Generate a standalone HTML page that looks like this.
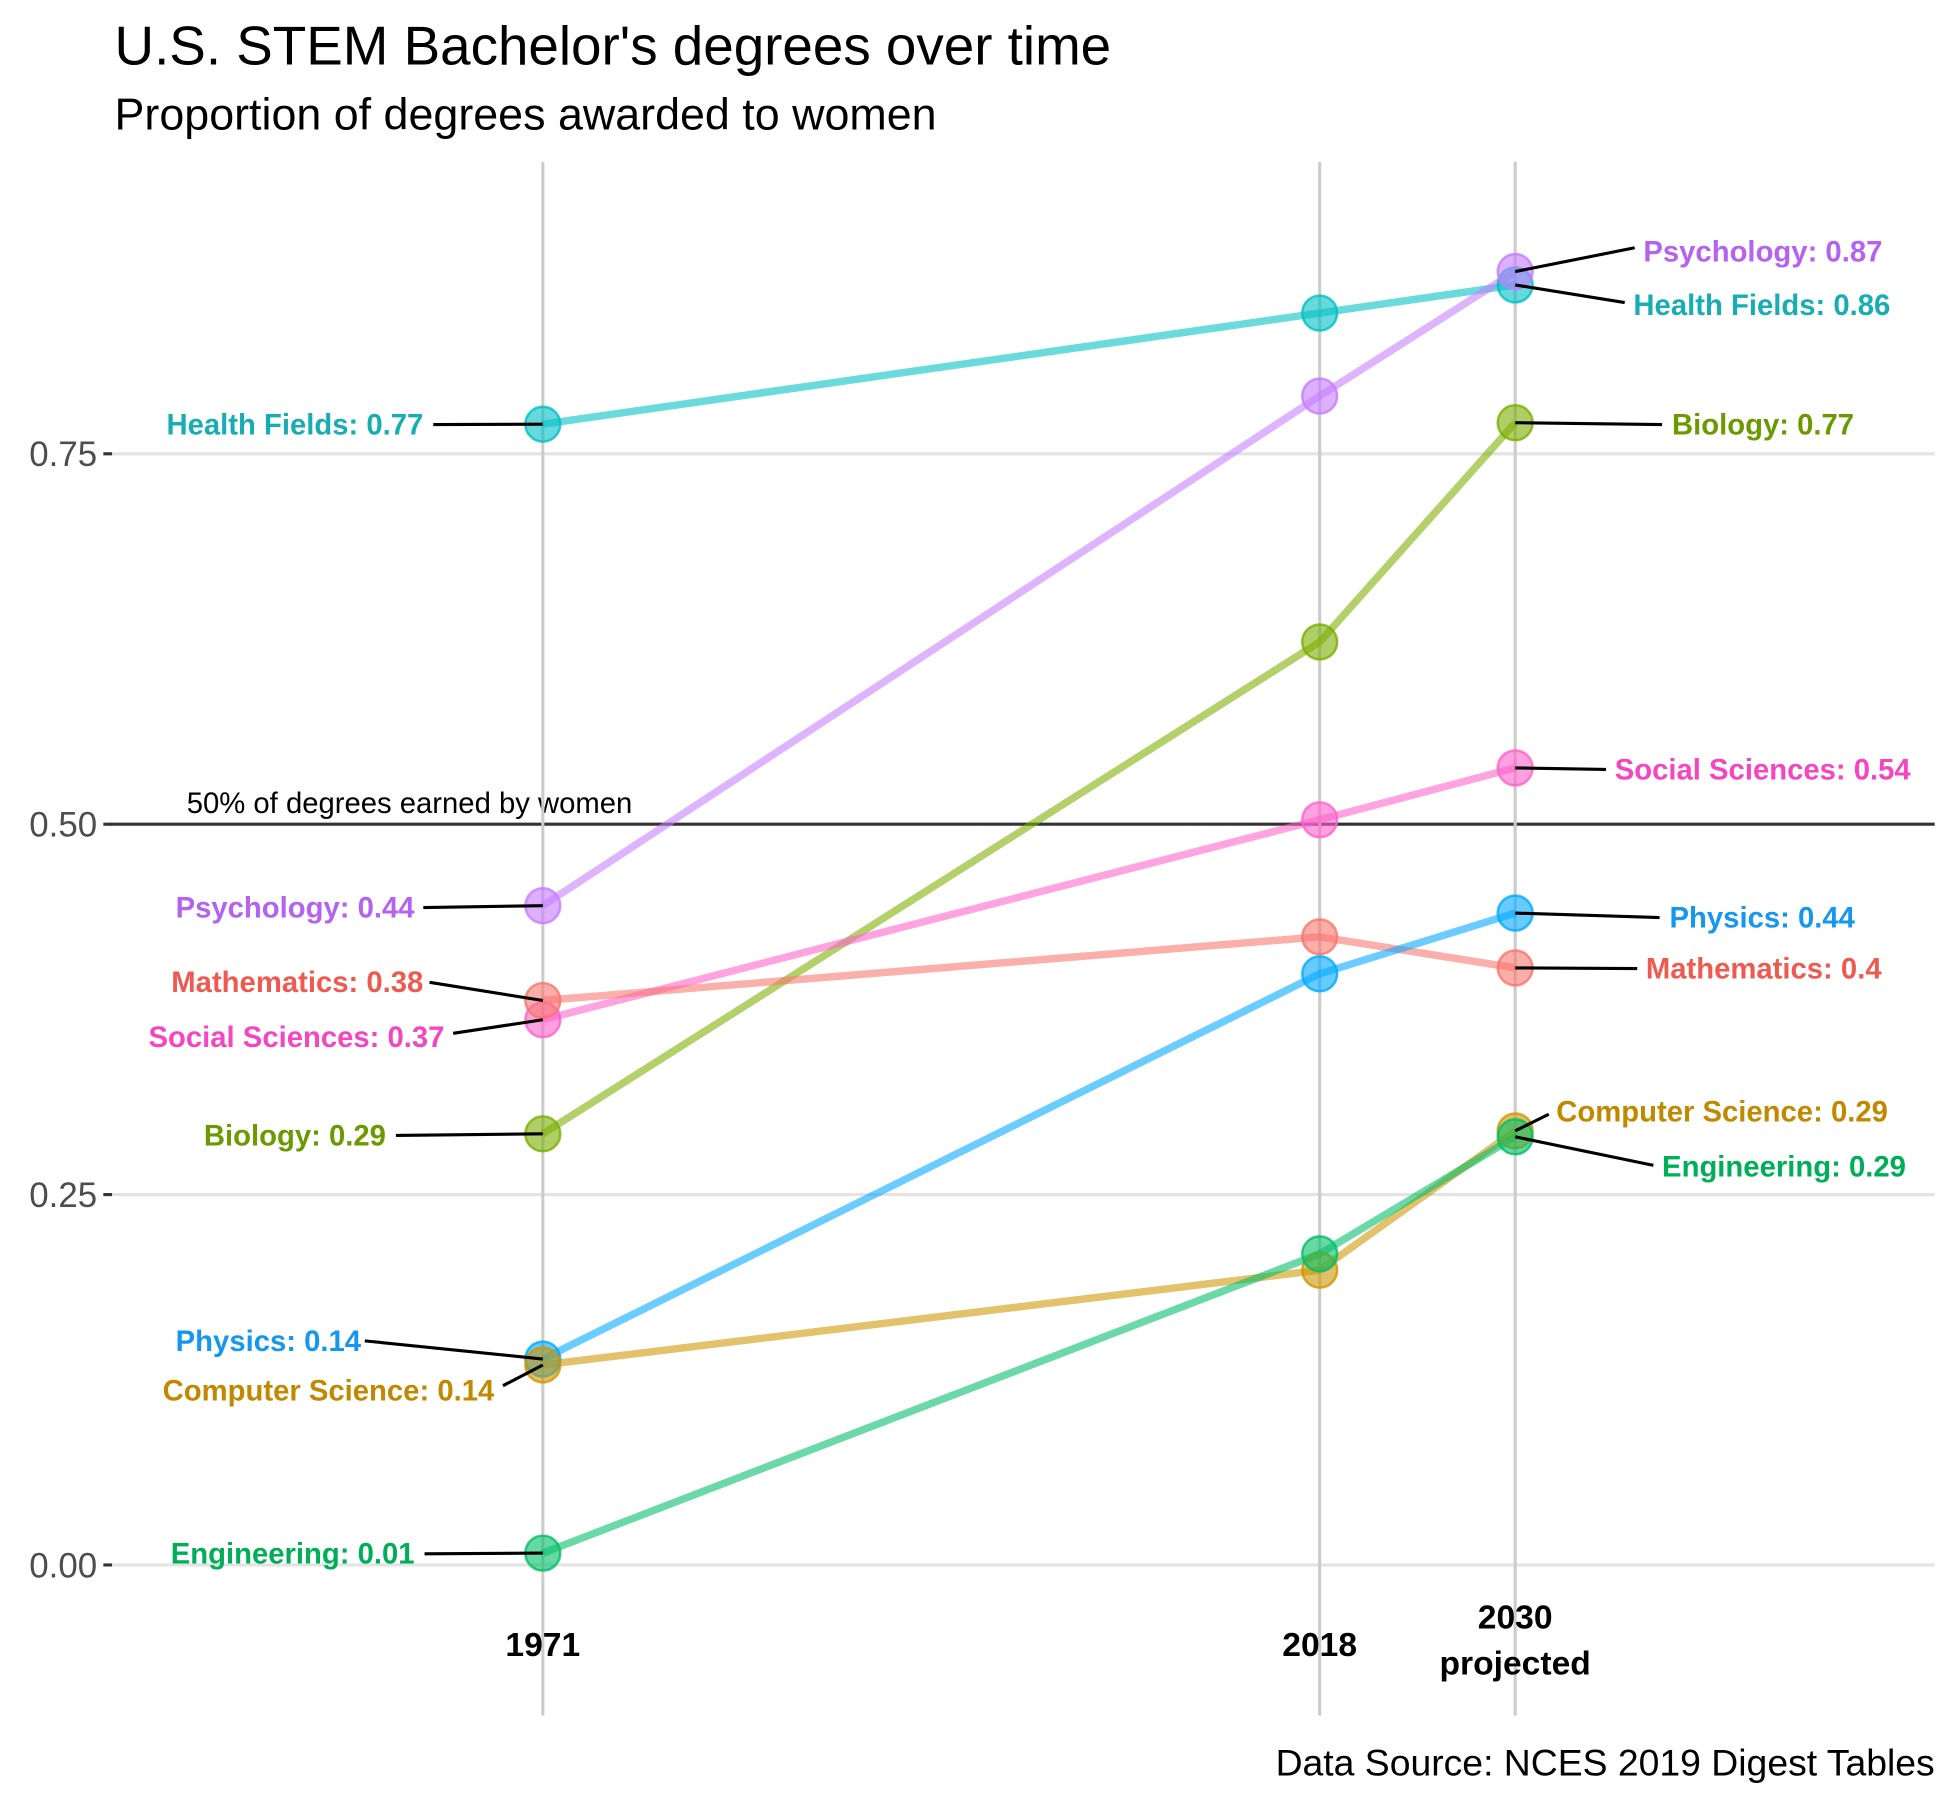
<!DOCTYPE html>
<html><head><meta charset="utf-8"><style>
html,body{margin:0;padding:0;background:#fff}
svg{display:block;font-family:"Liberation Sans",Arial,sans-serif}
</style></head><body>
<svg id="chart" width="1950" height="1800" viewBox="0 0 1560 1440" xmlns="http://www.w3.org/2000/svg">
<g transform="scale(0.996)">
<text x="92" y="52" font-size="44" fill="#000">U.S. STEM Bachelor's degrees over time</text>
<text x="92" y="104" font-size="36" fill="#000">Proportion of degrees awarded to women</text>
<text x="1554" y="1426" font-size="30" text-anchor="end" fill="#000">Data Source: NCES 2019 Digest Tables</text>
<g id="grid"></g>
<g id="series"></g>
<g id="labels"></g>
</g>
</svg>
<script>
const years = ["1971","2018","2030"];
const fields = ["Health Fields","Psychology","Biology","Social Sciences","Mathematics","Physics","Computer Science","Engineering"];
const v1971 = [0.77,0.445,0.291,0.368,0.381,0.139,0.135,0.008];
const v2018 = [0.845,0.789,0.623,0.503,0.424,0.399,0.199,0.21];
const v2030 = [0.864,0.873,0.771,0.538,0.403,0.44,0.293,0.289];
const label1971 = ["0.77","0.44","0.29","0.37","0.38","0.14","0.14","0.01"];
const label2030 = ["0.86","0.87","0.77","0.54","0.4","0.44","0.29","0.29"];
const yTicks = [0,0.25,0.5,0.75];
const yTickLabels = ["0.00","0.25","0.50","0.75"];

const colors = ["#00BFC4","#C77CFF","#7CAE00","#FF61CC","#F8766D","#00A9FF","#CD9600","#00BE67"];
const textColors = ["#17aeb3","#b462f2","#6b9a00","#f545bf","#ee5a50","#1597f0","#c08900","#00ae58"];
// label layout (pixel positions, not data): [textX, textY, lineStartX, lineStartY]
const leftLab = [[340,349,348,341],[333,737,340,729],[310,920,318,912],[357,841,364,830],[340,797,345,789],[290,1085,293,1077],[397,1125,404,1113],[333,1256,341,1248]];
const rightLab = [[1312,253,1305,243],[1320,210,1313,199],[1343,349,1335,341],[1297,626,1290,618],[1322,786,1315,778],[1341,745,1333,737],[1250,901,1244,895],[1335,945,1328,936]];

const NS="http://www.w3.org/2000/svg";
const X = {"1971":436,"2018":1060,"2030":1217};
const y = v => 1257 - 1190*v;
function mk(tag,attrs,parent){const e=document.createElementNS(NS,tag);for(const k in attrs)e.setAttribute(k,attrs[k]);parent.appendChild(e);return e;}
const grid=document.getElementById('grid'), series=document.getElementById('series'), labels=document.getElementById('labels');

yTicks.forEach((t,i)=>{
  const l=mk('line',{x1:88,x2:1554,y1:y(t),y2:y(t),stroke:t===0.5?'#333':'#e3e3e3','stroke-width':2.5},grid);
  
  
  const tk=mk('line',{x1:83,x2:90,y1:y(t),y2:y(t),stroke:'#333','stroke-width':2.5},grid);
  
  
  const tx=mk('text',{x:78,y:y(t)+10,'font-size':28,'text-anchor':'end',fill:'#4d4d4d'},grid);
  tx.textContent=yTickLabels[i];
  
  
});
const ref=mk('text',{x:150,y:653,'font-size':23.5,fill:'#000'},grid);
ref.textContent="50% of degrees earned by women";



years.forEach(yr=>{
  const l=mk('line',{x1:X[yr],x2:X[yr],y1:130,y2:1378,stroke:'#ccc','stroke-width':2.5},grid);
  
  
});
[["1971",436,1330],["2018",1060,1330],["2030",1217,1308],["projected",1217,1345]].forEach(a=>{
  const t=mk('text',{x:a[1],y:a[2],'font-size':27,'font-weight':'bold','text-anchor':'middle',fill:'#000'},grid);
  t.textContent=a[0];
  
  
});

fields.forEach((f,i)=>{
  const vals=[v1971[i],v2018[i],v2030[i]];
  const pts=years.map((yr,j)=>X[yr]+','+y(vals[j])).join(' ');
  const pl=mk('polyline',{points:pts,fill:'none',stroke:colors[i],'stroke-width':6,'stroke-opacity':0.58},series);
  
  
});
fields.forEach((f,i)=>{
  const vals=[v1971[i],v2018[i],v2030[i]];
  years.forEach((yr,j)=>{
    const c=mk('circle',{cx:X[yr],cy:y(vals[j]),r:14,fill:colors[i],'fill-opacity':0.6,stroke:colors[i],'stroke-width':2,'stroke-opacity':0.8},series);
    
    
  });
});
fields.forEach((f,i)=>{
  const L=leftLab[i], R=rightLab[i];
  const l1=mk('line',{x1:L[2],y1:L[3],x2:436,y2:y(v1971[i]),stroke:'#000','stroke-width':2.5},labels);
  
  
  const t1=mk('text',{x:L[0],y:L[1],'font-size':23.5,'font-weight':'bold','text-anchor':'end',fill:textColors[i]},labels);
  t1.textContent=f+': '+label1971[i];
  
  
  const l2=mk('line',{x1:1217,y1:y(v2030[i]),x2:R[2],y2:R[3],stroke:'#000','stroke-width':2.5},labels);
  
  
  const t2=mk('text',{x:R[0],y:R[1],'font-size':23.5,'font-weight':'bold',fill:textColors[i]},labels);
  t2.textContent=f+': '+label2030[i];
  
  
});
</script>
</body></html>
